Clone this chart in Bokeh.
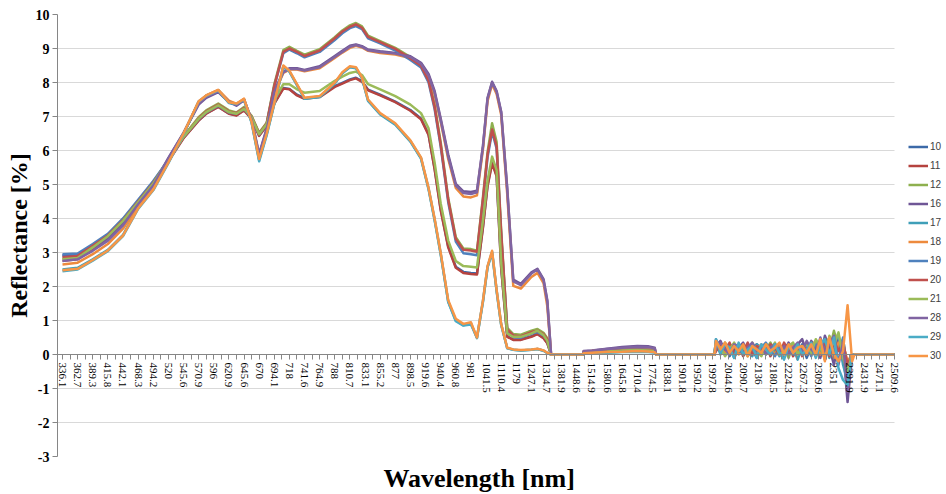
from bokeh.plotting import figure
from bokeh.models import FixedTicker, Legend, LegendItem, Title, Range1d, ColumnDataSource
from bokeh.embed import file_html
from bokeh.resources import INLINE

# ---- tick labels (wavelength categories) ----
LABELS = ["336.1", "362.7", "389.3", "415.8", "442.1", "468.3", "494.2", "520", "545.6", "570.9",
          "596", "620.9", "645.6", "670", "694.1", "718", "741.6", "764.9", "788", "810.7",
          "833.1", "855.2", "877", "898.5", "919.6", "940.4", "960.8", "981", "1041.5", "1110.4",
          "1179", "1247.1", "1314.7", "1381.9", "1448.6", "1514.9", "1580.6", "1645.8", "1710.4", "1774.5",
          "1838.1", "1901.8", "1950.2", "1997.8", "2044.6", "2090.7", "2136", "2180.5", "2224.3", "2267.3",
          "2309.6", "2351", "2391.9", "2431.9", "2471.1", "2509.6"]
Y_TICKS = [-3, -2, -1, 0, 1, 2, 3, 4, 5, 6, 7, 8, 9, 10]

SERIES = ["10", "11", "12", "16", "17", "18", "19", "20", "21", "28", "29", "30"]
COLORS = ["#3c6aa8", "#b5433f", "#8eb04f", "#6f5696", "#3f9fb8", "#ed8a3d",
          "#4f81bd", "#c0504d", "#9bbb59", "#8064a2", "#4bacc6", "#f79646"]

# category positions (in label-index units) of the sampled points
XM = [0, 1, 2, 3, 4, 5, 6, 7, 8, 9,
      9.5, 10.3, 11, 11.5, 12, 12.5, 13, 13.5, 14,
      14.6, 15, 15.5, 16, 17, 18, 18.5, 19, 19.4, 19.8, 20.2,
      21, 22, 23, 23.7, 24.2, 24.6, 25, 25.5, 26, 26.5,
      27, 27.4, 27.8, 28.1, 28.4, 28.7, 29, 29.4, 29.8, 30.3,
      31, 31.4, 31.8, 32.05, 32.3]
XB = [34.45, 35, 36, 37, 38, 38.7, 39.15]
XN = [43.2, 43.5, 43.8, 44.1, 44.4, 44.7, 45.0, 45.3, 45.6, 45.9,
      46.2, 46.5, 46.8, 47.1, 47.4, 47.7, 48.0, 48.3, 48.6, 48.9,
      49.2, 49.5, 49.8, 50.1, 50.4, 50.7, 51.0, 51.3, 51.6, 51.9,
      52.2]

# ---- reflectance values, main band ----
S10_MAIN = [2.9, 2.92, 3.2, 3.5, 3.95, 4.48, 5.02, 5.7, 6.37, 6.89,
            7.09, 7.29, 7.09, 7.04, 7.19, 6.94, 6.44, 6.74, 7.39,
            7.84, 7.81, 7.64, 7.54, 7.59, 7.89, 7.99, 8.09, 8.14, 8.04, 7.79,
            7.64, 7.44, 7.19, 6.94, 6.48, 5.48, 4.28, 3.18, 2.58, 2.43,
            2.4, 2.38, 3.78, 4.98, 5.66, 5.27, 2.58, 0.54, 0.44, 0.44,
            0.54, 0.61, 0.49, 0.34, 0.0]
S11_MAIN = [2.76, 2.8, 3.1, 3.43, 3.88, 4.43, 4.98, 5.68, 6.36, 6.88,
            7.08, 7.28, 7.08, 7.03, 7.18, 6.93, 6.43, 6.73, 7.38,
            7.82, 7.8, 7.62, 7.52, 7.57, 7.87, 7.97, 8.07, 8.12, 8.02, 7.77,
            7.62, 7.42, 7.17, 6.92, 6.46, 5.45, 4.25, 3.15, 2.55, 2.4,
            2.37, 2.35, 3.75, 4.95, 5.62, 5.24, 2.55, 0.52, 0.43, 0.43,
            0.52, 0.6, 0.48, 0.33, 0.0]
S12_MAIN = [2.82, 2.88, 3.18, 3.52, 3.98, 4.52, 5.08, 5.72, 6.42, 6.98,
            7.18, 7.38, 7.18, 7.12, 7.28, 7.02, 6.52, 6.82, 7.95,
            8.95, 9.05, 8.93, 8.82, 8.98, 9.33, 9.53, 9.68, 9.75, 9.65, 9.38,
            9.22, 9.02, 8.75, 8.53, 8.1, 7.35, 6.25, 4.6, 3.45, 3.12,
            3.1, 3.05, 4.65, 5.95, 6.8, 6.25, 3.65, 0.78, 0.6, 0.58,
            0.7, 0.75, 0.64, 0.48, 0.0]
S16_MAIN = [2.92, 2.94, 3.15, 3.42, 3.85, 4.45, 5.0, 5.78, 6.52, 7.35,
            7.55, 7.72, 7.42, 7.32, 7.48, 6.92, 5.9, 6.65, 7.75,
            8.32, 8.42, 8.42, 8.37, 8.48, 8.78, 8.93, 9.08, 9.12, 9.07, 8.97,
            8.92, 8.87, 8.77, 8.58, 8.25, 7.75, 6.95, 5.88, 5.02, 4.8,
            4.78, 4.82, 6.15, 7.55, 8.02, 7.75, 7.15, 4.9, 2.2, 2.08,
            2.42, 2.52, 2.22, 1.6, 0.0]
S17_MAIN = [2.5, 2.55, 2.8, 3.08, 3.52, 4.32, 4.87, 5.66, 6.5, 7.43,
            7.6, 7.76, 7.4, 7.36, 7.5, 6.83, 5.72, 6.48, 7.38,
            8.46, 8.32, 7.92, 7.52, 7.57, 7.97, 8.27, 8.45, 8.42, 8.12, 7.46,
            7.06, 6.76, 6.26, 5.76, 4.86, 3.95, 2.95, 1.55, 1.0, 0.86,
            0.92, 0.48, 1.56, 2.56, 3.0, 1.86, 0.88, 0.19, 0.14, 0.12,
            0.14, 0.16, 0.11, 0.05, 0.0]
S18_MAIN = [2.65, 2.7, 2.95, 3.25, 3.7, 4.35, 4.92, 5.72, 6.5, 7.42,
            7.62, 7.78, 7.47, 7.37, 7.52, 6.88, 5.82, 6.58, 7.68,
            8.28, 8.38, 8.38, 8.33, 8.42, 8.72, 8.88, 9.02, 9.08, 9.03, 8.93,
            8.87, 8.82, 8.72, 8.52, 8.16, 7.65, 6.85, 5.75, 4.9, 4.65,
            4.62, 4.68, 6.05, 7.45, 7.95, 7.66, 7.05, 4.72, 2.02, 1.94,
            2.28, 2.4, 2.1, 1.42, 0.0]
S19_MAIN = [2.95, 2.97, 3.25, 3.55, 4.0, 4.55, 5.1, 5.72, 6.4, 6.92,
            7.12, 7.32, 7.12, 7.08, 7.22, 6.98, 6.48, 6.78, 7.88,
            8.86, 8.97, 8.86, 8.74, 8.9, 9.25, 9.45, 9.6, 9.66, 9.57, 9.3,
            9.15, 8.94, 8.66, 8.44, 8.0, 7.22, 6.12, 4.48, 3.32, 2.98,
            2.95, 2.92, 4.5, 5.8, 6.55, 6.05, 3.5, 0.7, 0.52, 0.5,
            0.62, 0.66, 0.56, 0.42, 0.0]
S20_MAIN = [2.85, 2.9, 3.2, 3.5, 3.95, 4.5, 5.05, 5.7, 6.4, 6.95,
            7.15, 7.35, 7.15, 7.1, 7.25, 7.0, 6.5, 6.8, 7.9,
            8.9, 9.0, 8.9, 8.78, 8.94, 9.3, 9.5, 9.64, 9.71, 9.61, 9.34,
            9.19, 8.99, 8.71, 8.49, 8.05, 7.28, 6.18, 4.55, 3.4, 3.08,
            3.06, 3.02, 4.58, 5.88, 6.62, 6.12, 3.58, 0.74, 0.56, 0.54,
            0.66, 0.7, 0.6, 0.45, 0.0]
S21_MAIN = [2.8, 2.84, 3.15, 3.48, 3.93, 4.48, 5.03, 5.72, 6.4, 6.93,
            7.13, 7.33, 7.13, 7.08, 7.23, 6.98, 6.48, 6.78, 7.48,
            7.95, 7.95, 7.8, 7.7, 7.75, 8.05, 8.17, 8.28, 8.32, 8.22, 7.95,
            7.8, 7.6, 7.35, 7.1, 6.65, 5.65, 4.45, 3.35, 2.75, 2.6,
            2.58, 2.56, 3.95, 5.12, 5.82, 5.42, 2.7, 0.62, 0.52, 0.52,
            0.62, 0.7, 0.57, 0.4, 0.0]
S28_MAIN = [2.75, 2.8, 3.05, 3.35, 3.8, 4.42, 4.97, 5.76, 6.51, 7.38,
            7.58, 7.74, 7.44, 7.34, 7.5, 6.9, 5.86, 6.62, 7.72,
            8.3, 8.4, 8.4, 8.35, 8.45, 8.75, 8.9, 9.05, 9.1, 9.05, 8.95,
            8.9, 8.85, 8.75, 8.55, 8.2, 7.7, 6.9, 5.82, 4.97, 4.75,
            4.72, 4.77, 6.12, 7.52, 8.0, 7.72, 7.12, 4.85, 2.15, 2.04,
            2.38, 2.5, 2.18, 1.55, 0.0]
S29_MAIN = [2.45, 2.5, 2.76, 3.04, 3.48, 4.28, 4.83, 5.63, 6.48, 7.44,
            7.61, 7.77, 7.41, 7.37, 7.5, 6.82, 5.68, 6.45, 7.36,
            8.48, 8.33, 7.93, 7.53, 7.58, 7.98, 8.28, 8.46, 8.43, 8.13, 7.48,
            7.08, 6.78, 6.28, 5.78, 4.88, 3.97, 2.97, 1.55, 0.98, 0.85,
            0.88, 0.5, 1.58, 2.58, 3.02, 1.88, 0.88, 0.18, 0.14, 0.12,
            0.14, 0.16, 0.11, 0.04, 0.0]
S30_MAIN = [2.48, 2.52, 2.78, 3.06, 3.5, 4.3, 4.85, 5.65, 6.5, 7.45,
            7.62, 7.78, 7.42, 7.38, 7.52, 6.85, 5.75, 6.5, 7.4,
            8.5, 8.35, 7.95, 7.55, 7.6, 8.0, 8.3, 8.48, 8.45, 8.15, 7.5,
            7.1, 6.8, 6.3, 5.8, 4.9, 4.0, 3.0, 1.6, 1.05, 0.9,
            0.95, 0.5, 1.6, 2.6, 3.05, 1.9, 0.9, 0.2, 0.15, 0.13,
            0.15, 0.17, 0.12, 0.05, 0.0]

# ---- small band near 1448-1774 nm ----
S10_BUMP = [0.05, 0.06, 0.08, 0.11, 0.12, 0.11, 0.09]
S11_BUMP = [0.05, 0.06, 0.08, 0.1, 0.12, 0.11, 0.09]
S12_BUMP = [0.07, 0.08, 0.11, 0.14, 0.16, 0.15, 0.12]
S16_BUMP = [0.1, 0.12, 0.17, 0.22, 0.25, 0.24, 0.2]
S17_BUMP = [0.04, 0.05, 0.06, 0.08, 0.09, 0.08, 0.07]
S18_BUMP = [0.08, 0.1, 0.14, 0.18, 0.2, 0.19, 0.16]
S19_BUMP = [0.06, 0.07, 0.1, 0.13, 0.15, 0.14, 0.11]
S20_BUMP = [0.07, 0.08, 0.1, 0.13, 0.14, 0.13, 0.11]
S21_BUMP = [0.06, 0.07, 0.09, 0.12, 0.13, 0.12, 0.1]
S28_BUMP = [0.09, 0.11, 0.16, 0.2, 0.23, 0.22, 0.18]
S29_BUMP = [0.03, 0.04, 0.05, 0.07, 0.08, 0.07, 0.06]
S30_BUMP = [0.04, 0.05, 0.07, 0.08, 0.1, 0.09, 0.07]

# ---- noisy band 1997-2392 nm ----
S10_NOISE = [0.35, 0.1, 0.25, -0.05, 0.2, 0.05, 0.3, 0.1, 0.15, -0.1,
             0.25, 0.05, 0.2, 0.1, 0.3, -0.05, 0.15, 0.2, 0.05, 0.3,
             -0.1, 0.25, 0.1, 0.35, -0.15, 0.4, 0.1, 0.3, -0.2, -0.5,
             0.0]
S11_NOISE = [0.2, 0.3, 0.0, 0.2, 0.1, 0.25, -0.05, 0.2, 0.3, 0.05,
             0.1, 0.3, -0.05, 0.25, 0.05, 0.2, 0.3, -0.05, 0.25, 0.1,
             0.35, 0.0, 0.3, 0.05, 0.45, 0.0, 0.3, 0.5, 0.1, -0.3,
             0.0]
S12_NOISE = [0.3, 0.05, 0.35, 0.1, 0.0, 0.3, 0.15, -0.05, 0.25, 0.2,
             0.0, 0.15, 0.35, 0.05, 0.1, 0.25, -0.1, 0.3, 0.15, 0.0,
             0.35, 0.15, -0.05, 0.4, 0.2, 0.1, 0.7, 0.2, 0.45, -0.4,
             0.0]
S16_NOISE = [0.25, 0.4, 0.1, 0.3, 0.05, 0.2, 0.35, 0.0, 0.2, 0.3,
             0.1, 0.25, 0.0, 0.3, 0.2, 0.05, 0.35, 0.1, 0.3, 0.45,
             0.05, 0.4, 0.2, -0.1, 0.55, 0.2, -0.3, 0.45, 0.2, -1.4,
             0.0]
S17_NOISE = [0.4, 0.0, 0.2, 0.3, -0.1, 0.15, 0.25, 0.05, -0.05, 0.3,
             0.2, 0.0, 0.25, 0.15, -0.05, 0.3, 0.1, 0.2, -0.15, 0.25,
             0.1, 0.3, -0.05, 0.2, 0.35, -0.1, 0.3, 0.6, -0.3, -0.8,
             0.0]
S18_NOISE = [0.15, 0.3, 0.05, 0.25, 0.3, 0.0, 0.2, 0.25, 0.05, 0.15,
             0.3, 0.1, 0.15, 0.0, 0.25, 0.2, 0.05, 0.3, 0.1, 0.2,
             0.0, 0.25, 0.4, 0.0, 0.2, 0.5, -0.1, 0.35, 0.3, -0.2,
             0.0]
S19_NOISE = [0.45, 0.15, 0.3, 0.0, 0.25, 0.1, 0.05, 0.3, 0.2, 0.0,
             0.2, 0.35, 0.1, -0.05, 0.2, 0.15, 0.3, 0.0, 0.2, 0.1,
             0.25, -0.05, 0.35, 0.15, 0.0, 0.45, 0.15, -0.2, 0.5, -0.6,
             0.0]
S20_NOISE = [0.1, 0.25, 0.15, 0.35, 0.0, 0.2, 0.1, 0.35, 0.0, 0.25,
             0.15, 0.05, 0.3, 0.2, 0.0, 0.35, 0.1, 0.15, 0.3, -0.05,
             0.2, 0.3, 0.0, 0.25, 0.3, -0.05, 0.4, 0.1, 0.35, -0.3,
             0.0]
S21_NOISE = [0.3, 0.2, -0.05, 0.15, 0.35, 0.1, 0.2, 0.0, 0.35, 0.1,
             -0.05, 0.3, 0.15, 0.35, 0.0, 0.1, 0.25, 0.35, 0.0, 0.2,
             0.3, 0.05, 0.45, 0.2, -0.1, 0.55, 0.3, 0.65, -0.1, -0.5,
             0.0]
S28_NOISE = [0.2, 0.35, 0.15, 0.0, 0.3, 0.25, 0.05, 0.2, 0.35, 0.1,
             0.25, 0.0, 0.2, 0.3, 0.1, 0.25, 0.0, 0.2, 0.35, 0.1,
             0.4, 0.15, 0.0, 0.5, 0.1, 0.3, 0.55, -0.3, 0.35, -1.1,
             0.0]
S29_NOISE = [0.45, 0.05, 0.3, 0.2, -0.1, 0.35, 0.0, 0.15, 0.25, -0.1,
             0.3, 0.15, 0.0, 0.3, 0.05, -0.15, 0.25, 0.05, 0.3, 0.0,
             0.15, 0.35, -0.1, 0.3, 0.45, 0.0, 0.5, -0.4, -0.75, -0.9,
             0.0]
S30_NOISE = [0.4, 0.15, 0.35, 0.05, 0.25, 0.1, 0.3, -0.05, 0.25, 0.15,
             0.05, 0.3, 0.1, 0.2, 0.35, 0.0, 0.3, 0.05, 0.2, 0.25,
             0.05, 0.3, 0.0, 0.45, -0.2, 0.5, 0.0, -0.2, 0.1, 1.45,
             -0.2]

PARTS = {
    "10": (S10_MAIN, S10_BUMP, S10_NOISE), "11": (S11_MAIN, S11_BUMP, S11_NOISE),
    "12": (S12_MAIN, S12_BUMP, S12_NOISE), "16": (S16_MAIN, S16_BUMP, S16_NOISE),
    "17": (S17_MAIN, S17_BUMP, S17_NOISE), "18": (S18_MAIN, S18_BUMP, S18_NOISE),
    "19": (S19_MAIN, S19_BUMP, S19_NOISE), "20": (S20_MAIN, S20_BUMP, S20_NOISE),
    "21": (S21_MAIN, S21_BUMP, S21_NOISE), "28": (S28_MAIN, S28_BUMP, S28_NOISE),
    "29": (S29_MAIN, S29_BUMP, S29_NOISE), "30": (S30_MAIN, S30_BUMP, S30_NOISE),
}

X = XM + [34.4] + XB + [39.25, 43.1] + XN + [52.35, 55.0]

X_START = -0.33
X_END = 58.44   # frame extends to the right edge so the legend has room

p = figure(frame_width=889, frame_height=442, output_backend="svg", toolbar_location=None,
           x_range=Range1d(X_START, X_END), y_range=Range1d(-3, 10),
           min_border_top=14, min_border_left=57, min_border_right=0, min_border_bottom=0)
p.outline_line_color = None
p.background_fill_color = "white"
p.border_fill_color = "white"
p.xgrid.visible = False
p.ygrid.ticker = FixedTicker(ticks=Y_TICKS)
p.ygrid.grid_line_color = "#d9d9d9"
p.ygrid.grid_line_width = 1
try:
    p.ygrid.cross_bounds = (X_START, 55)
except Exception:
    p.ygrid.visible = False
    p.segment(x0=X_START, x1=55, y0=Y_TICKS, y1=Y_TICKS, line_color="#d9d9d9",
              line_width=1, level="underlay")

items = []
for name, color in zip(SERIES, COLORS):
    main, bump, noise = PARTS[name]
    y = main + [0.0] + bump + [0.0, 0.0] + noise + [0.0, 0.0]
    src = ColumnDataSource(dict(x=X, y=y))
    r = p.line("x", "y", source=src, line_color=color, line_width=2.5, line_join="round")
    items.append(LegendItem(label=name, renderers=[r]))

xaxis = p.xaxis[0]
xaxis.fixed_location = 0
xaxis.bounds = (X_START, 55)
xaxis.ticker = FixedTicker(ticks=list(range(len(LABELS))),
                           minor_ticks=[i + 0.5 for i in range(len(LABELS) - 1)])
xaxis.major_label_overrides = {i: lab for i, lab in enumerate(LABELS)}
xaxis.major_label_orientation = "vertical"
xaxis.major_label_text_font = "Liberation Serif"
xaxis.major_label_text_font_size = "11px"
xaxis.major_label_text_color = "black"
xaxis.major_label_standoff = 3
xaxis.axis_line_color = "#868686"
xaxis.major_tick_line_color = "#868686"
xaxis.minor_tick_line_color = "#868686"
xaxis.major_tick_in = 0
xaxis.major_tick_out = 5
xaxis.minor_tick_in = 0
xaxis.minor_tick_out = 5

yaxis = p.yaxis[0]
yaxis.ticker = FixedTicker(ticks=Y_TICKS)
yaxis.major_label_overrides = {t: str(t) for t in Y_TICKS}
yaxis.major_label_text_font = "Liberation Serif"
yaxis.major_label_text_font_style = "bold"
yaxis.major_label_text_font_size = "14px"
yaxis.major_label_text_color = "black"
yaxis.major_label_standoff = 3
yaxis.axis_line_color = "#868686"
yaxis.major_tick_line_color = "#868686"
yaxis.major_tick_in = 0
yaxis.major_tick_out = 5
yaxis.minor_tick_line_color = None
yaxis.axis_label = "Reflectance [%]"
yaxis.axis_label_text_font = "Liberation Serif"
yaxis.axis_label_text_font_style = "bold"
yaxis.axis_label_text_font_size = "24px"
yaxis.axis_label_text_color = "black"
yaxis.axis_label_standoff = 1

title = Title(text="Wavelength [nm]", align="left", offset=326, text_font="Liberation Serif",
              text_font_size="26px", text_font_style="bold", text_color="black")
p.add_layout(title, "below")

legend = Legend(items=items, location=(851, 91), orientation="vertical",
                label_text_font="Liberation Sans", label_text_font_size="10px",
                label_text_color="#404040", glyph_width=20, glyph_height=19,
                label_height=19, label_width=12, label_standoff=2, spacing=0,
                padding=2, margin=0,
                border_line_color=None, background_fill_alpha=0)
p.add_layout(legend, "center")

open("out.html", "w").write(file_html(p, INLINE))
